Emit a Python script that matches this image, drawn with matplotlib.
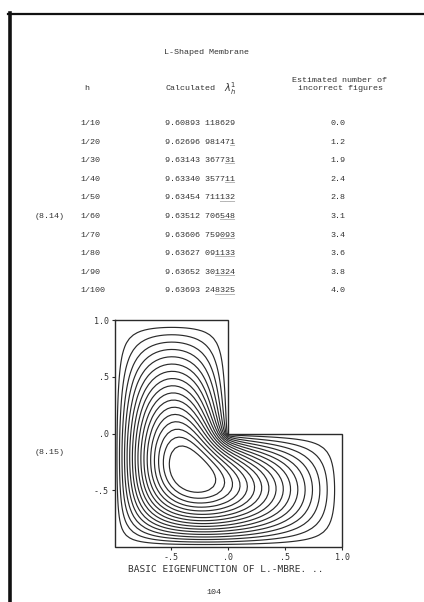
import numpy as np
import matplotlib
matplotlib.use("Agg")
import matplotlib.pyplot as plt
from matplotlib.lines import Line2D

# ---------------- data ----------------
title = "L-Shaped Membrane"
h_labels = ["1/10", "1/20", "1/30", "1/40", "1/50", "1/60", "1/70", "1/80", "1/90", "1/100"]
lam_values = ["9.60893 118629", "9.62696 981471", "9.63143 367731", "9.63340 357711",
              "9.63454 711132", "9.63512 706548", "9.63606 759093", "9.63627 091133",
              "9.63652 301324", "9.63693 248325"]
underlined_digits = [0, 1, 2, 2, 3, 3, 3, 4, 4, 4]
incorrect_figures = ["0.0", "1.2", "1.9", "2.4", "2.8", "3.1", "3.4", "3.6", "3.8", "4.0"]
eq_table = "(8.14)"
eq_plot = "(8.15)"
xtick_vals = [-0.5, 0.0, 0.5, 1.0]
xtick_labels = ["-.5", ".0", ".5", "1.0"]
ytick_vals = [1.0, 0.5, 0.0, -0.5]
ytick_labels = ["1.0", ".5", ".0", "-.5"]
contour_levels = [0.054, 0.108, 0.162, 0.216, 0.270, 0.324, 0.378, 0.432, 0.486,
                  0.540, 0.594, 0.648, 0.702, 0.756, 0.810, 0.864, 0.918]
caption = "BASIC EIGENFUNCTION OF L.-MBRE. .."
page_number = "104"

# ------------- eigenfunction of the L-shaped membrane (finite differences) -------------
N = 30
n = 2 * N + 1
g = np.linspace(-1, 1, n)
X, Y = np.meshgrid(g, g)
inside = np.zeros((n, n), bool)
inside[1:-1, 1:-1] = True
inside &= ~((X >= -1e-12) & (Y >= -1e-12))
idx = -np.ones((n, n), int)
pts = np.argwhere(inside)
idx[inside] = np.arange(len(pts))
m = len(pts)
A = np.zeros((m, m))
for k, (i, j) in enumerate(pts):
    A[k, k] = 4.0
    for di, dj in ((1, 0), (-1, 0), (0, 1), (0, -1)):
        q = idx[i + di, j + dj]
        if q >= 0:
            A[k, q] = -1.0
Ainv = np.linalg.inv(A)
v = np.ones(m)
for _ in range(60):
    v = Ainv @ v
    v /= np.linalg.norm(v)
U = np.zeros((n, n))
U[inside] = np.abs(v)
U /= U.max()
U[(X > 1e-12) & (Y > 1e-12)] = np.nan

# ---------------- figure ----------------
W, H = 424, 602
fig = plt.figure(figsize=(W / 100, H / 100), dpi=100)
fig.patch.set_facecolor("white")
tcol = "#333333"
mono = ["Liberation Mono", "DejaVu Sans Mono"]

def fx(px):
    return px / W

def fy(py):
    return 1 - py / H

# page border
fig.add_artist(Line2D([fx(8), fx(424)], [fy(13.5), fy(13.5)], color="#111", lw=1.6))
fig.add_artist(Line2D([fx(9.5), fx(9.5)], [fy(12.5), fy(602)], color="#111", lw=2.6))

fs = 6.0
fig.text(fx(207), fy(52), title, family=mono, fontsize=fs, color=tcol, ha="center", va="center")
fig.text(fx(87), fy(89), "h", family=mono, fontsize=fs, color=tcol, ha="center", va="center")
fig.text(fx(165), fy(89), "Calculated", family=mono, fontsize=fs, color=tcol, ha="left", va="center")
fig.text(fx(224), fy(89), r"$\lambda_h^{1}$", fontsize=fs + 1, color=tcol, ha="left", va="center")
fig.text(fx(340), fy(80), "Estimated number of", family=mono, fontsize=fs, color=tcol, ha="center", va="center")
fig.text(fx(340), fy(88), "incorrect figures", family=mono, fontsize=fs, color=tcol, ha="center", va="center")

row_y0, row_dy = 123.5, 18.6
for r, (hl, lv, nu, inc) in enumerate(zip(h_labels, lam_values, underlined_digits, incorrect_figures)):
    y = row_y0 + r * row_dy
    fig.text(fx(80), fy(y), hl, family=mono, fontsize=fs, color=tcol, ha="left", va="center")
    fig.text(fx(165), fy(y), lv, family=mono, fontsize=fs, color=tcol, ha="left", va="center")
    if nu:
        ul = " " * (len(lv) - nu) + "_" * nu
        fig.text(fx(165), fy(y + 0.5), ul, family=mono, fontsize=fs, color=tcol, ha="left", va="center")
    fig.text(fx(338), fy(y), inc, family=mono, fontsize=fs, color=tcol, ha="center", va="center")
    if r == 5:
        fig.text(fx(50), fy(y), eq_table, family=mono, fontsize=fs, color=tcol, ha="center", va="center")

fig.text(fx(50), fy(453), eq_plot, family=mono, fontsize=fs, color=tcol, ha="center", va="center")

# contour plot
ax = fig.add_axes([fx(114.5), fy(547), (342 - 114.5) / W, (547 - 320) / H])
ax.set_xlim(-1, 1)
ax.set_ylim(-1, 1)
for s in ax.spines.values():
    s.set_visible(False)
lcol = "#2a2a2a"
ax.contour(X, Y, U, levels=contour_levels, colors=lcol, linewidths=0.85)
bx = [-1, 0, 0, 1, 1, -1, -1]
by = [1, 1, 0, 0, -1, -1, 1]
ax.plot(bx, by, color=lcol, lw=1.0, solid_joinstyle="miter", clip_on=False)
ax.set_xticks(xtick_vals)
ax.set_xticklabels(xtick_labels)
ax.set_yticks(ytick_vals)
ax.set_yticklabels(ytick_labels)
ax.tick_params(axis="both", direction="out", length=2.5, width=0.8, color=lcol,
               labelsize=6.0, labelcolor=tcol, pad=1.5)
for lab in ax.get_xticklabels() + ax.get_yticklabels():
    lab.set_family(["DejaVu Sans Mono"])

fig.text(fx(226), fy(569), caption, family=["DejaVu Sans Mono"], fontsize=6.8, color=tcol,
         ha="center", va="center")
fig.text(fx(214), fy(592), page_number, family=mono, fontsize=fs, color=tcol, ha="center", va="center")

fig.savefig("out.png", dpi=100, facecolor="white")
